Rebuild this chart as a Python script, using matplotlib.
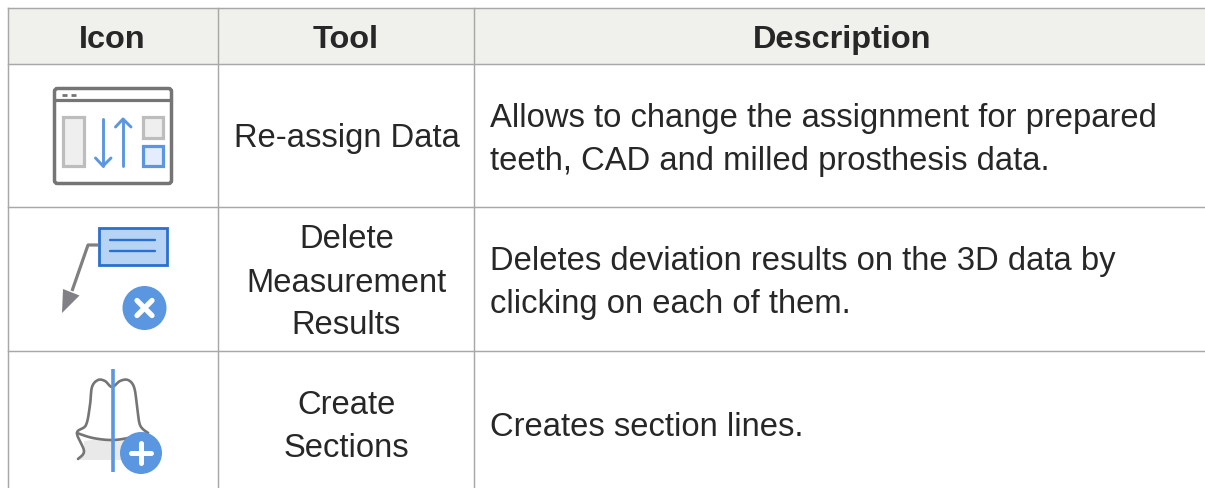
import matplotlib
matplotlib.use("Agg")
import matplotlib.pyplot as plt
import numpy as np
from matplotlib.patches import Circle, FancyBboxPatch, Polygon, Rectangle

plt.rcParams["font.family"] = ["Liberation Sans", "DejaVu Sans"]

# table content
headers = ["Icon", "Tool", "Description"]
tools = [["Re-assign Data"], ["Delete", "Measurement", "Results"], ["Create", "Sections"]]
descriptions = [
    ["Allows to change the assignment for prepared", "teeth, CAD and milled prosthesis data."],
    ["Deletes deviation results on the 3D data by", "clicking on each of them."],
    ["Creates section lines."],
]

W, H = 1205, 488
col_x = [8, 218, 474, 1205]
row_y = [8, 64, 207, 351, 488]

GRID = "#a8a8a8"
HEADER_BG = "#f0f0ec"
TEXT = "#272727"
GRAY = "#757575"
LIGHT = "#bdbdbd"
PALE = "#efefef"
BLUE = "#5b97e0"
DARK_BLUE = "#2a70d0"
FS = 23.55


def smooth(points, n=12):
    # catmull-rom through the points, for the tooth outline
    p = np.array(points, dtype=float)
    p = np.vstack([p[0], p, p[-1]])
    out = []
    for i in range(1, len(p) - 2):
        for t in np.linspace(0, 1, n, endpoint=False):
            out.append(0.5 * (2 * p[i] + (p[i + 1] - p[i - 1]) * t
                              + (2 * p[i - 1] - 5 * p[i] + 4 * p[i + 1] - p[i + 2]) * t ** 2
                              + (3 * p[i] - p[i - 1] - 3 * p[i + 1] + p[i + 2]) * t ** 3))
    out.append(p[-1])
    return np.array(out)


def line(ax, xs, ys, color, lw, cap="round", z=3):
    ax.plot(xs, ys, color=color, lw=lw, solid_capstyle=cap, solid_joinstyle="round", zorder=z)


def draw_reassign_icon(ax):
    ax.add_patch(FancyBboxPatch((54.5, 88.5), 117, 95, boxstyle="round,pad=0,rounding_size=3",
                                fc="white", ec=GRAY, lw=2.5, zorder=2))
    line(ax, [55, 171], [100, 100], GRAY, 2.3)
    line(ax, [62, 67], [94.5, 94.5], GRAY, 2.0, "butt")
    line(ax, [71, 76], [94.5, 94.5], GRAY, 2.0, "butt")
    ax.add_patch(Rectangle((63, 117), 20.5, 49, fc=PALE, ec=LIGHT, lw=2.3, zorder=2))
    ax.add_patch(Rectangle((142.5, 117), 20.5, 20.5, fc=PALE, ec=LIGHT, lw=2.3, zorder=2))
    ax.add_patch(Rectangle((142.5, 145.5), 20.5, 20.5, fc="#e4edfb", ec=BLUE, lw=2.3, zorder=2))
    line(ax, [103, 103], [119, 166], BLUE, 2.1)
    line(ax, [95.5, 103, 111], [158, 166, 158], BLUE, 2.1)
    line(ax, [123, 123], [166, 119], BLUE, 2.1)
    line(ax, [115.5, 123, 131], [127, 119, 127], BLUE, 2.1)


def draw_delete_icon(ax):
    line(ax, [98, 88, 72], [245, 245, 291], "#808080", 2.3, "butt")
    ax.add_patch(Polygon([(62, 313), (63, 289), (79.5, 295.5)], fc="#808086", ec="none", zorder=3))
    ax.add_patch(Rectangle((98.5, 228), 68, 36.5, fc="#b8d4f4", ec=DARK_BLUE, lw=2.0, zorder=3))
    line(ax, [110, 155], [240, 240], DARK_BLUE, 1.7, "round", 4)
    line(ax, [110, 155], [251, 251], DARK_BLUE, 1.7, "round", 4)
    ax.add_patch(Circle((144.5, 308), 22, fc=BLUE, ec="none", zorder=3))
    line(ax, [137, 152], [300.5, 315.5], "white", 3.8, "round", 4)
    line(ax, [137, 152], [315.5, 300.5], "white", 3.8, "round", 4)


def draw_section_icon(ax):
    ax.add_patch(Polygon([(84, 441), (100, 439), (113, 440), (145, 438), (145, 460), (79, 460), (84, 451)],
                         fc="#e9e9e9", ec="none", zorder=2))
    outline = [(78, 459), (84, 451), (77, 433), (86, 425), (90, 405), (92, 387), (98, 380),
               (105, 381), (112, 387), (120, 381), (128, 380), (134, 387), (137, 405), (140, 425), (148, 433)]
    pts = smooth(outline)
    line(ax, pts[:, 0], pts[:, 1], GRAY, 1.9)
    base = smooth([(77, 433), (93, 438), (113, 440), (133, 437), (148, 433)])
    line(ax, base[:, 0], base[:, 1], GRAY, 1.9)
    line(ax, [112.5, 112.5], [369, 472], BLUE, 2.6, "butt", 4)
    ax.add_patch(Circle((141, 453), 21, fc=BLUE, ec="none", zorder=5))
    line(ax, [131, 151], [453, 453], "white", 3.6, "round", 6)
    line(ax, [141, 141], [443, 463], "white", 3.6, "round", 6)


def main() -> None:
    fig = plt.figure(figsize=(W / 100, H / 100), dpi=100)
    ax = fig.add_axes([0, 0, 1, 1])
    ax.set_xlim(0, W)
    ax.set_ylim(H, 0)
    ax.axis("off")

    ax.add_patch(Rectangle((col_x[0], row_y[0]), W - col_x[0], row_y[1] - row_y[0], fc=HEADER_BG, ec="none", zorder=0))
    for x in col_x[:-1]:
        ax.plot([x, x], [row_y[0], H], color=GRID, lw=1.05, zorder=1)
    for y in row_y[:-1]:
        ax.plot([col_x[0], W], [y, y], color=GRID, lw=1.05, zorder=1)

    header_x = [112.5, 346, 842]
    for cx, label in zip(header_x, headers):
        ax.text(cx, 36.5, label, ha="center", va="center_baseline", fontsize=23.4, fontweight="bold", color=TEXT)

    line_gap = 43
    tool_y = [135.5, 279.5, 423.5]
    for lines, y0 in zip(tools, tool_y):
        start = y0 - line_gap * (len(lines) - 1) / 2
        for i, s in enumerate(lines):
            ax.text(346.5, start + i * line_gap, s, ha="center", va="center_baseline", fontsize=FS, color=TEXT)

    desc_y = [136.5, 279.5, 423.5]
    for lines, y0 in zip(descriptions, desc_y):
        start = y0 - line_gap * (len(lines) - 1) / 2
        for i, s in enumerate(lines):
            ax.text(490, start + i * line_gap, s, ha="left", va="center_baseline", fontsize=FS, color=TEXT)

    draw_reassign_icon(ax)
    draw_delete_icon(ax)
    draw_section_icon(ax)

    fig.savefig("out.png", dpi=100)
    plt.close(fig)


if __name__ == "__main__":
    main()
